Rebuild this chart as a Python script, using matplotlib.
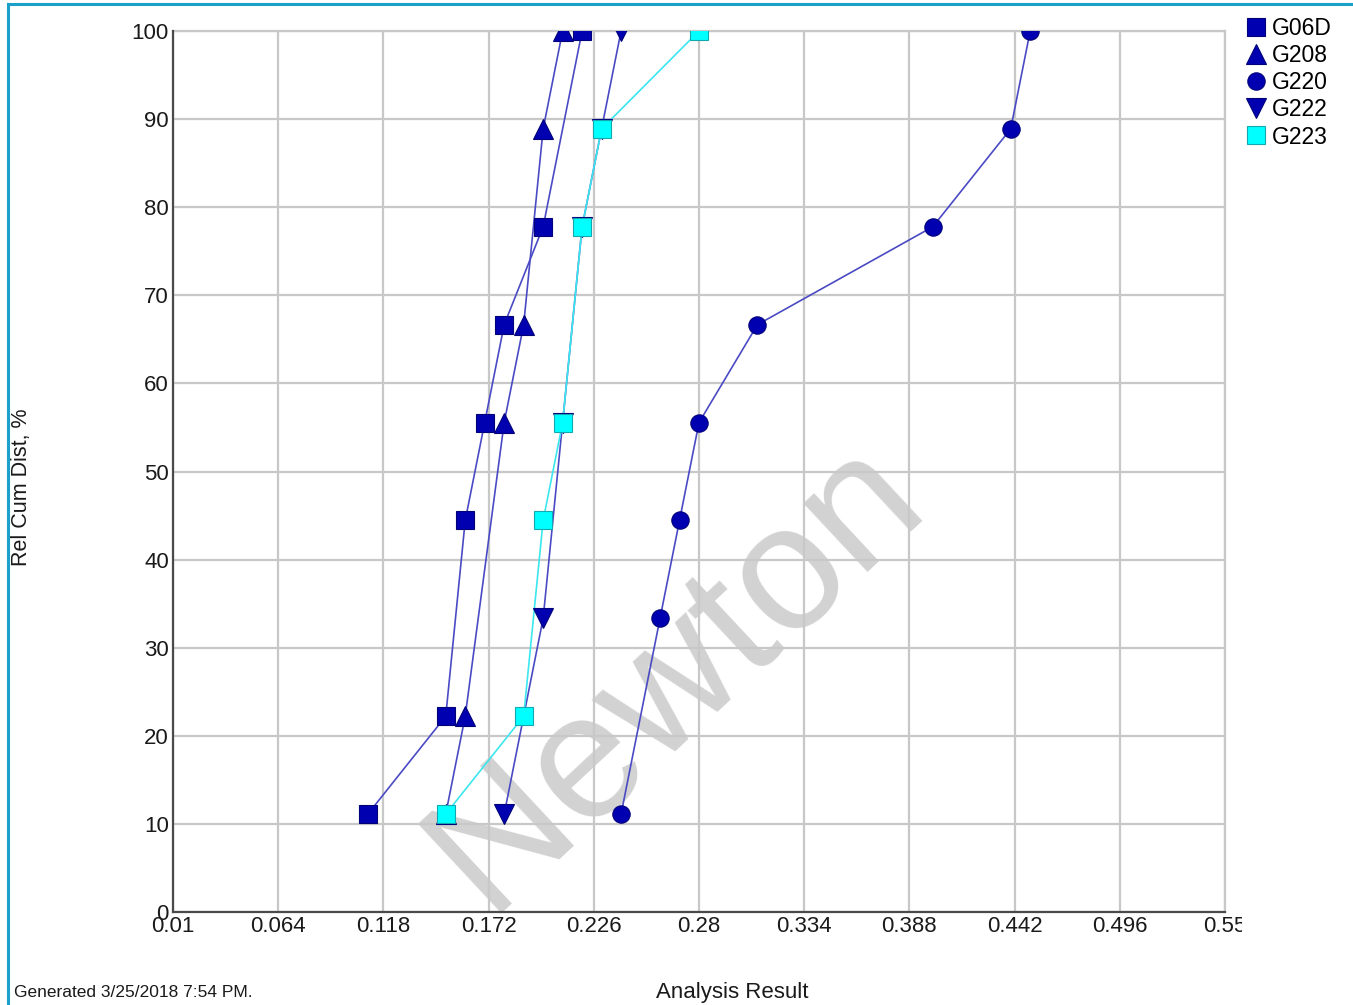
import matplotlib.pyplot as plt
from matplotlib.lines import Line2D
from matplotlib.transforms import Bbox

# relative cumulative distribution levels (ninths)
lv = [100 / 9 * k for k in range(1, 10)]

g06d_x = [0.11, 0.15, 0.16, 0.17, 0.18, 0.20, 0.22]
g06d_y = [lv[0], lv[1], lv[3], lv[4], lv[5], lv[6], lv[8]]

g208_x = [0.15, 0.16, 0.18, 0.19, 0.20, 0.21]
g208_y = [lv[0], lv[1], lv[4], lv[5], lv[7], lv[8]]

g220_x = [0.24, 0.26, 0.27, 0.28, 0.31, 0.40, 0.44, 0.45]
g220_y = [lv[0], lv[2], lv[3], lv[4], lv[5], lv[6], lv[7], lv[8]]

g222_x = [0.18, 0.20, 0.21, 0.22, 0.23, 0.24]
g222_y = [lv[0], lv[2], lv[4], lv[6], lv[7], lv[8]]

g223_x = [0.15, 0.19, 0.20, 0.21, 0.22, 0.23, 0.28]
g223_y = [lv[0], lv[1], lv[3], lv[4], lv[6], lv[7], lv[8]]

x_ticks = [0.01, 0.064, 0.118, 0.172, 0.226, 0.28, 0.334, 0.388, 0.442, 0.496, 0.55]
x_labels = ["0.01", "0.064", "0.118", "0.172", "0.226", "0.28", "0.334", "0.388", "0.442", "0.496", "0.55"]
y_ticks = [0, 10, 20, 30, 40, 50, 60, 70, 80, 90, 100]

plt.rcParams['font.family'] = ['Liberation Sans', 'DejaVu Sans']

W, H = 1353, 1005
fig = plt.figure(figsize=(W / 100, H / 100), dpi=100)
ax = fig.add_axes([173 / W, 1 - 912 / H, (1225 - 173) / W, (912 - 31) / H])

line_c = "#4a4ac4"
mark_c = "#0000b0"
mark_e = "#00007a"
cyan_c = "#00ffff"
cyan_e = "#13a8b0"
cyan_l = "#3ce6ee"

series = [
    ("G06D", g06d_x, g06d_y, "s", 13, mark_c, mark_e, line_c),
    ("G208", g208_x, g208_y, "^", 14, mark_c, mark_e, line_c),
    ("G220", g220_x, g220_y, "o", 12.5, mark_c, mark_e, line_c),
    ("G222", g222_x, g222_y, "v", 14, mark_c, mark_e, line_c),
    ("G223", g223_x, g223_y, "s", 13, cyan_c, cyan_e, cyan_l),
]

handles = []
for i, (name, xs, ys, m, ms, fc, ec, lc) in enumerate(series):
    ax.plot(xs, ys, "-", color=lc, lw=1.2, zorder=3 + i * 0.1)
    ax.plot(xs, ys, ls="none", marker=m, ms=ms, mfc=fc, mec=ec, mew=0.8, zorder=4 + i * 0.1)
    handles.append(Line2D([], [], ls="none", marker=m, ms=ms, mfc=fc, mec=ec, mew=0.8, label=name))

# watermark behind the grid
ax.text(0.268, 27, "Newton", fontsize=128, color="#d2d2d2", rotation=43,
        ha="center", va="center", zorder=0.5)

ax.set_xlim(0.01, 0.55)
ax.set_ylim(0, 100)
ax.set_xticks(x_ticks)
ax.set_xticklabels(x_labels)
ax.set_yticks(y_ticks)
ax.tick_params(length=0, labelsize=16, colors="#1a1a1a", pad=3)
ax.grid(True, color="#c8c8c8", lw=1.6, zorder=1)
ax.set_axisbelow(True)
for s in ["top", "right"]:
    ax.spines[s].set_color("#c8c8c8")
    ax.spines[s].set_linewidth(1.6)
for s in ["left", "bottom"]:
    ax.spines[s].set_color("#4a4a4a")
    ax.spines[s].set_linewidth(1.6)
    ax.spines[s].set_zorder(5)

# last x label is cut off at the right edge
lbl = ax.get_xticklabels()[-1]
lbl.set_clip_box(Bbox([[0, 0], [1242, H]]))
lbl.set_clip_on(True)

fig.legend(handles=handles, loc="upper left", bbox_to_anchor=(1243 / W, 1 - 17 / H),
           frameon=False, fontsize=16.5, handletextpad=0.15, labelspacing=0.18,
           handlelength=1.1, borderaxespad=0, borderpad=0)

fig.text(22 / W, 1 - 487 / H, "Rel Cum Dist, %", rotation=90, fontsize=15.5,
         ha="center", va="center", color="#1a1a1a")
fig.text(732 / W, 1 - 992 / H, "Analysis Result", fontsize=16,
         ha="center", va="center", color="#1a1a1a")
fig.text(14 / W, 1 - 992 / H, "Generated 3/25/2018 7:54 PM.", fontsize=12.5,
         ha="left", va="center", color="#1a1a1a")

# page frame
fig.add_artist(Line2D([8 / W, 8 / W], [0, 1 - 4 / H], color="#1ba0c8", lw=2.2))
fig.add_artist(Line2D([8 / W, 1], [1 - 4 / H, 1 - 4 / H], color="#1ba0c8", lw=2.2))

fig.savefig("out.png", dpi=100)
